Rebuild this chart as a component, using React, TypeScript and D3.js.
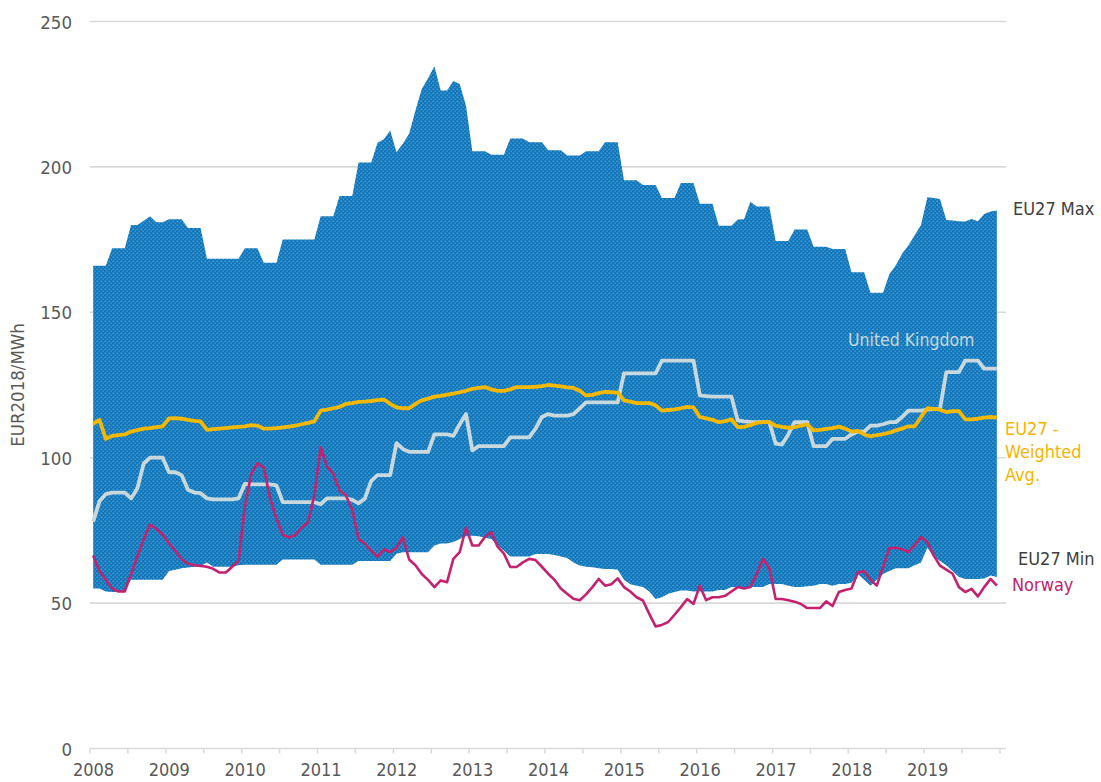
import React from 'react';
import * as d3 from 'd3';

// Monthly values, Jan 2008 .. Dec 2019 (12 per row = 1 year)
const START_YEAR = 2008;
const yearLabels = ['2008', '2009', '2010', '2011', '2012', '2013', '2014', '2015', '2016', '2017', '2018', '2019'];
const yTicks = [0, 50, 100, 150, 200, 250];

const eu27Max = [
  166, 166, 166, 172, 172, 172, 180, 180, 181.5, 183, 181, 181,
  182, 182, 182, 179, 179, 179, 168.4, 168.4, 168.4, 168.4, 168.4, 168.4,
  172, 172, 172, 167, 167, 167, 175, 175, 175, 175, 175, 175,
  183, 183, 183, 190, 190, 190, 201.5, 201.5, 201.5, 208.3, 209.5, 212.5,
  205, 208, 211.4, 219.4, 226.8, 230.5, 234.6, 226.3, 226.3, 229.5, 228.5, 221,
  205.4, 205.4, 205.4, 204.2, 204.2, 204.2, 209.8, 209.8, 209.8, 208.5, 208.5, 208.5,
  205.7, 205.7, 205.7, 203.9, 203.9, 203.9, 205.4, 205.4, 205.4, 208.5, 208.5, 208.5,
  195.4, 195.4, 195.4, 193.8, 193.8, 193.8, 189.3, 189.3, 189.3, 194.5, 194.5, 194.5,
  187.3, 187.3, 187.3, 179.8, 179.8, 179.8, 181.9, 182, 188, 186.4, 186.4, 186.4,
  174.5, 174.5, 174.5, 178.5, 178.5, 178.5, 172.5, 172.5, 172.5, 171.8, 171.8, 171.8,
  163.8, 163.8, 163.8, 156.7, 156.7, 156.7, 163.2, 166.1, 170.1, 173, 176.5, 180,
  189.6, 189.3, 189, 181.7, 181.6, 181.3, 181.2, 182.1, 181.3, 183.8, 184.7, 185,
];

const eu27Min = [
  55, 55, 54, 53.8, 53.8, 54.5, 58, 58, 58, 58, 58, 58,
  61, 61.5, 62, 62.2, 62.5, 62.8, 64, 62.5, 62.5, 62.5, 62.5, 63,
  63.2, 63.2, 63.2, 63.2, 63.2, 63.2, 65, 65, 65, 65, 65, 65,
  63.2, 63.2, 63.2, 63.2, 63.2, 63.2, 64.5, 64.5, 64.5, 64.5, 64.5, 64.5,
  67, 67.5, 67.5, 67.5, 67.5, 67.5, 69.8, 70.5, 70.5, 71, 72, 73,
  73.2, 73, 72.5, 72, 70, 68, 66, 66, 66, 66, 66.9, 66.9,
  66.9, 66.5, 66, 65.5, 64, 62.9, 62.5, 62.3, 62, 61.7, 61.7, 61.5,
  58, 56.5, 56, 55.5, 54, 51.4, 52, 53.2, 53.8, 54.3, 54.3, 54,
  54, 54, 54, 54.5, 54.5, 55.5, 55.5, 55.5, 55.5, 55.5, 55.5, 56.6,
  56.6, 56.6, 56, 55.5, 55.5, 55.8, 56, 56.6, 56.6, 56, 56.6, 56.6,
  57, 60, 58, 56, 58, 60, 61, 62, 62, 62, 63, 64,
  69, 66, 64.5, 63, 61, 59, 58.3, 58.3, 58.3, 58.5, 59.5, 59,
];

const unitedKingdom = [
  78, 85, 87.5, 88, 88, 88, 86, 89.5, 98, 100, 100, 100,
  95, 95, 94, 89, 88, 87.8, 86, 85.7, 85.7, 85.7, 85.7, 86,
  91, 90.8, 90.8, 90.8, 90.8, 90.5, 84.7, 84.7, 84.7, 84.7, 84.7, 84.7,
  84, 86, 86, 86, 86, 85.5, 84.3, 86, 92, 94, 94, 94,
  105, 103, 102, 102, 102, 102, 108, 108, 108, 107.5, 111.5, 115,
  102.5, 104, 104, 104, 104, 104, 107, 107, 107, 107, 110, 114,
  115, 114.5, 114.5, 114.5, 115, 117, 119, 119, 119, 119, 119, 119,
  129, 129, 129, 129, 129, 129, 133.4, 133.4, 133.4, 133.4, 133.4, 133.4,
  121.4, 121.2, 121, 121, 121, 121, 112.8, 112.5, 112.3, 112.2, 112.2, 112.2,
  104.8, 104.5, 108, 112.2, 112.2, 112.2, 104, 104, 104, 106.5, 106.5, 106.5,
  108, 109, 109, 111, 111, 111.5, 112.2, 112.2, 114, 116.2, 116.2, 116.2,
  116.5, 116.7, 116.7, 129.4, 129.4, 129.4, 133.4, 133.4, 133.4, 130.6, 130.6, 130.6,
];

const eu27WeightedAvg = [
  111.6, 113, 106.5, 107.5, 107.8, 108, 109, 109.5, 110, 110.2, 110.5, 110.8,
  113.5, 113.6, 113.4, 113, 112.7, 112.5, 109.6, 109.8, 110, 110.2, 110.4, 110.6,
  110.8, 111.2, 111, 110, 110, 110.2, 110.4, 110.7, 111, 111.5, 112, 112.5,
  116.2, 116.5, 117, 117.5, 118.5, 118.8, 119.2, 119.3, 119.5, 119.8, 120, 118.5,
  117.3, 117, 117, 118.5, 119.7, 120.3, 121, 121.3, 121.7, 122, 122.5, 123,
  123.7, 124, 124.3, 123.5, 123, 123, 123.5, 124.3, 124.3, 124.3, 124.4, 124.6,
  125, 124.8, 124.5, 124.2, 124, 123, 121.4, 121.6, 122.2, 122.6, 122.5, 122.4,
  119.7, 119.3, 118.8, 118.8, 118.8, 118, 116.2, 116.4, 116.6, 117, 117.5, 117.3,
  114, 113.5, 113, 112.2, 112.6, 113.2, 110.5, 110.6, 111.2, 112, 112.2, 112.2,
  111, 110.6, 110.3, 110.5, 111, 111.5, 109.4, 109.6, 109.9, 110.2, 110.7, 110,
  109, 109.2, 108, 107.3, 107.8, 108.1, 108.6, 109.4, 110, 110.8, 110.8, 114,
  117, 116.8, 116.5, 115.7, 116, 116, 113.2, 113.2, 113.4, 113.8, 114, 113.8,
];

const norway = [
  66.4, 61, 58, 55, 54, 54, 60, 66, 72, 77, 75.5, 73.5,
  70.5, 68, 65, 63.5, 63, 62.8, 62.5, 61.8, 60.5, 60.5, 62.5, 64.5,
  83, 94.4, 98.1, 96.5, 86, 79, 73.5, 72.5, 73.5, 76, 77.8, 87,
  103.6, 97, 94.4, 88.7, 87, 82, 72, 70.5, 68, 66, 68.5, 67.5,
  69, 72.7, 65, 63, 60, 58, 55.5, 57.8, 57.2, 65.2, 67.5, 75.9,
  69.8, 69.8, 72.7, 74.4, 69.4, 67, 62.4, 62.4, 64, 65.2, 64.8, 62.5,
  60.1, 58, 55, 53.2, 51.5, 51, 53, 55.5, 58.3, 56, 56.5, 58.5,
  55.5, 54, 52, 50.9, 46.3, 42, 42.5, 43.5, 46, 48.6, 51.4, 49.7,
  56, 51, 52, 52, 52.5, 54, 55.5, 55, 55.5, 60, 65.2, 62,
  51.4, 51.4, 51, 50.5, 49.7, 48.3, 48.3, 48.3, 50.6, 49, 53.8, 54.5,
  55, 60.5, 61, 58, 56, 62.4, 68.9, 69, 68.5, 67.5, 69.9, 72.7,
  71, 66.4, 62.9, 61.5, 60.1, 55.5, 53.8, 54.9, 52.3, 55.5, 58.3, 56,
];

const FONT = "'DejaVu Sans Condensed', 'DejaVu Sans', sans-serif";
const GRID = '#d9d9d9';
const TEXT = '#595959';

export default function App() {
  const x = d3.scaleLinear().domain([START_YEAR, START_YEAR + 12]).range([90, 1000]);
  const y = d3.scaleLinear().domain([0, 250]).range([748.5, 21.5]);
  const t = (i: number) => START_YEAR + (i + 0.5) / 12;

  const band = d3
    .area<number>()
    .x((_, i) => x(t(i)))
    .y0((_, i) => y(eu27Min[i]))
    .y1((d) => y(d));
  const line = d3
    .line<number>()
    .x((_, i) => x(t(i)))
    .y((d) => y(d));

  const halfYearTicks = d3.range(0, 25).map((k) => START_YEAR + k * 0.5);

  return (
    <svg
      width={1101}
      height={782}
      style={{ position: 'absolute', left: 0, top: 0, background: '#fff' }}
      fontFamily={FONT}
    >
      <defs>
        <pattern id="dots" width={4} height={4} patternUnits="userSpaceOnUse">
          <rect width={4} height={4} fill="#1572b6" />
          <rect x={0.5} y={0.5} width={1.6} height={1.6} fill="#33a8df" />
          <rect x={2.5} y={2.5} width={1.6} height={1.6} fill="#2c9cd6" />
        </pattern>
      </defs>

      {/* gridlines */}
      {yTicks.filter((v) => v > 0).map((v) => (
        <line key={v} x1={90} x2={1006} y1={y(v)} y2={y(v)} stroke={GRID} strokeWidth={1.6} />
      ))}
      {/* y tick labels */}
      {yTicks.map((v) => (
        <text key={v} x={72} y={y(v) + 7} textAnchor="end" fontSize={18.5} fill={TEXT}>
          {v}
        </text>
      ))}

      {/* band */}
      <path d={band(eu27Max) || ''} fill="url(#dots)" />

      {/* x axis */}
      <line x1={90} x2={1006} y1={y(0)} y2={y(0)} stroke={GRID} strokeWidth={1.6} />
      {halfYearTicks.map((v) => (
        <line key={v} x1={x(v)} x2={x(v)} y1={y(0)} y2={y(0) + 5} stroke={GRID} strokeWidth={1.5} />
      ))}
      {yearLabels.map((lab, k) => (
        <text key={lab} x={x(START_YEAR + k) + 3.5} y={776} textAnchor="middle" fontSize={18} fill={TEXT}>
          {lab}
        </text>
      ))}

      {/* lines */}
      <path d={line(unitedKingdom) || ''} fill="none" stroke="#c8d8dd" strokeWidth={3.8} strokeLinejoin="round" />
      <path d={line(eu27WeightedAvg) || ''} fill="none" stroke="#f5b800" strokeWidth={3.8} strokeLinejoin="round" />
      <path d={line(norway) || ''} fill="none" stroke="#c4216f" strokeWidth={2.6} strokeLinejoin="round" />

      {/* y title */}
      <text
        transform="translate(24,385) rotate(-90)"
        textAnchor="middle"
        fontSize={18.5}
        fill={TEXT}
      >
        EUR2018/MWh
      </text>

      {/* series labels */}
      <text x={1013} y={215} fontSize={18} fill="#404040">EU27 Max</text>
      <text x={848} y={346} fontSize={17.5} fill="#c8d8dd">United Kingdom</text>
      <text x={1005} y={435} fontSize={18} fill="#f2b400">EU27 -</text>
      <text x={1005} y={458} fontSize={18} fill="#f2b400">Weighted</text>
      <text x={1005} y={481} fontSize={18} fill="#f2b400">Avg.</text>
      <text x={1018} y={565} fontSize={18} fill="#404040">EU27 Min</text>
      <text x={1012} y={591} fontSize={18} fill="#c4216f">Norway</text>
    </svg>
  );
}
